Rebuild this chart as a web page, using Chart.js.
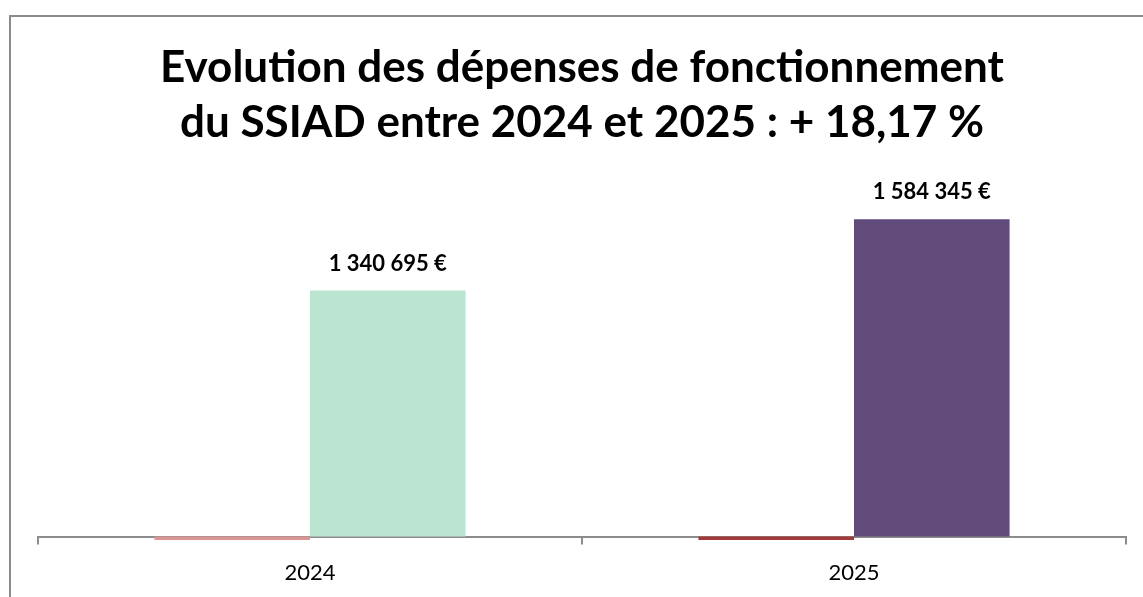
<!DOCTYPE html>
<html lang="fr">
<head>
<meta charset="utf-8">
<title>Evolution des dépenses de fonctionnement du SSIAD</title>
<script src="https://cdn.jsdelivr.net/npm/chart.js@4/dist/chart.umd.min.js"></script>
<style>
	html, body { margin: 0; padding: 0; background: #fff; }
	#wrap { width: 1143px; height: 597px; position: relative; }
</style>
</head>
<body>
<div id="wrap"><canvas id="chart"></canvas></div>
<script>
// Données
const categories = ['2024', '2025'];
const depenses = [1340695, 1584345];
// petite série rouge, à peine visible sous l'axe (valeurs sous le minimum de l'axe)
const serieRouge = [488000, 488000];
const axeMin = 500000;
const axeMax = 1800000;
const titre = ['Evolution des dépenses de fonctionnement', 'du SSIAD entre 2024 et 2025 : + 18,17 %'];

const couleursDepenses = ['#bce5d1', '#614b7a'];
const couleursRouge = ['#d99694', '#a33a3a'];

const fmtEuro = v => String(v).replace(/\B(?=(\d{3})+(?!\d))/g, ' ') + ' €';

// cadre gris du graphique (coupé à droite et en bas)
const cadre = {
	id: 'cadre',
	beforeDraw(chart) {
		const ctx = chart.ctx;
		ctx.save();
		ctx.strokeStyle = '#8c8c8c';
		ctx.lineWidth = 2;
		ctx.beginPath();
		ctx.moveTo(10, chart.height + 2);
		ctx.lineTo(10, 16);
		ctx.lineTo(chart.width + 2, 16);
		ctx.stroke();
		ctx.restore();
	}
};

// étiquettes de valeur au-dessus des barres
const etiquettes = {
	id: 'etiquettes',
	afterDatasetsDraw(chart) {
		const ctx = chart.ctx;
		const meta = chart.getDatasetMeta(1);
		ctx.save();
		ctx.font = 'bold 22px Lato, "Open Sans", sans-serif';
		ctx.fillStyle = '#000';
		ctx.textAlign = 'center';
		ctx.textBaseline = 'middle';
		meta.data.forEach((bar, i) => {
			ctx.fillText(fmtEuro(depenses[i]), bar.x, bar.y - 27);
		});
		ctx.restore();
	}
};

new Chart(document.getElementById('chart'), {
	type: 'bar',
	data: {
		labels: categories,
		datasets: [
			{
				label: 'Série 1',
				data: serieRouge,
				backgroundColor: couleursRouge,
				base: axeMin,
				clip: false,
			},
			{
				label: 'Dépenses de fonctionnement',
				data: depenses,
				backgroundColor: couleursDepenses,
			}
		]
	},
	options: {
		responsive: true,
		maintainAspectRatio: false,
		animation: false,
		categoryPercentage: 0.572,
		barPercentage: 1.0,
		layout: {
			padding: { left: 38, right: 17, top: 0, bottom: -4 }
		},
		plugins: {
			legend: { display: false },
			tooltip: { enabled: false },
			title: {
				display: true,
				text: titre,
				color: '#000',
				font: { family: 'Lato, "Open Sans", sans-serif', size: 44, weight: 'bold', lineHeight: 1.25 },
				padding: { top: 40, bottom: 6 }
			}
		},
		scales: {
			x: {
				z: 1,
				grid: {
					offset: true,
					drawOnChartArea: false,
					drawTicks: true,
					tickLength: 8,
					color: '#8c8c8c',
					lineWidth: 2
				},
				border: { color: '#8c8c8c', width: 2 },
				ticks: {
					color: '#000',
					padding: 15,
					font: { family: 'Lato, "Open Sans", sans-serif', size: 22 }
				}
			},
			y: {
				display: false,
				min: axeMin,
				max: axeMax
			}
		}
	},
	plugins: [cadre, etiquettes]
});
</script>
</body>
</html>
